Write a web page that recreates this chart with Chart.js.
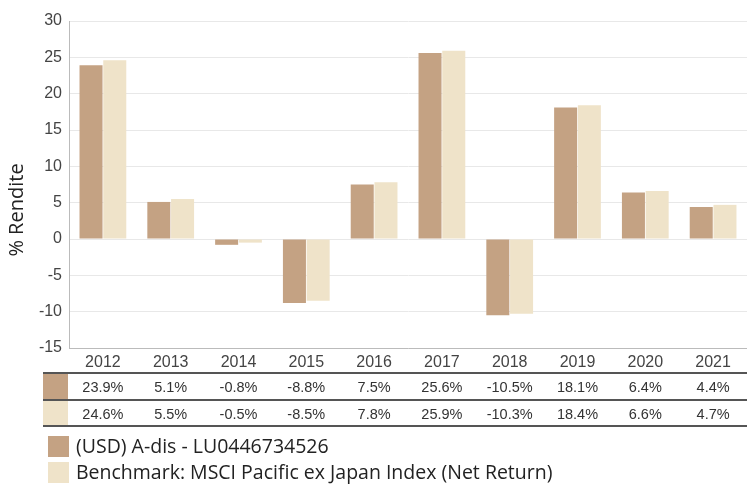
<!DOCTYPE html>
<html>
<head>
<meta charset="utf-8">
<script src="https://cdn.jsdelivr.net/npm/chart.js@4/dist/chart.umd.min.js"></script>
<style>
  html, body { margin: 0; padding: 0; background: #fff; }
  #wrap { width: 747px; height: 484px; position: relative; }
</style>
</head>
<body>
<div id="wrap"><canvas id="c" width="747" height="484"></canvas></div>
<script>
const years = ['2012','2013','2014','2015','2016','2017','2018','2019','2020','2021'];
const fundValues = [23.9, 5.1, -0.8, -8.8, 7.5, 25.6, -10.5, 18.1, 6.4, 4.4];
const benchValues = [24.6, 5.5, -0.5, -8.5, 7.8, 25.9, -10.3, 18.4, 6.6, 4.7];
const seriesNames = ['(USD) A-dis - LU0446734526', 'Benchmark: MSCI Pacific ex Japan Index (Net Return)'];
const yAxisTitle = '% Rendite';
const yMin = -15, yMax = 30, yStep = 5;

const fundColor = '#C4A283';
const benchColor = '#EFE3C9';

const tablePlugin = {
  id: 'tableLegend',
  afterDraw(chart) {
    const ctx = chart.ctx;
    const x = chart.scales.x;
    ctx.save();
    // y-axis title
    ctx.save();
    ctx.translate(17, 210);
    ctx.rotate(-Math.PI / 2);
    ctx.font = '20px "Open Sans"';
    ctx.fillStyle = '#222';
    ctx.textAlign = 'center';
    ctx.textBaseline = 'middle';
    ctx.fillText(yAxisTitle, 0, 0);
    ctx.restore();

    // table
    const left = 43, right = 747;
    const rowsTop = [374, 401];
    const rowH = 25;
    const rows = [fundValues, benchValues];
    const colors = [fundColor, benchColor];
    rows.forEach((vals, r) => {
      ctx.fillStyle = colors[r];
      ctx.fillRect(left, rowsTop[r], 25, rowH);
      ctx.font = '14.5px "Liberation Sans"';
      ctx.fillStyle = '#333';
      ctx.textAlign = 'center';
      ctx.textBaseline = 'middle';
      vals.forEach((v, i) => {
        ctx.fillText(v.toFixed(1) + '%', x.getPixelForValue(i), rowsTop[r] + rowH / 2 + 1);
      });
    });
    ctx.strokeStyle = '#555';
    ctx.lineWidth = 2;
    [373, 400, 426].forEach(yy => {
      ctx.beginPath();
      ctx.moveTo(left, yy);
      ctx.lineTo(right, yy);
      ctx.stroke();
    });

    // legend
    const legTop = [436, 462];
    ctx.font = '19.5px "Open Sans"';
    ctx.textAlign = 'left';
    ctx.textBaseline = 'middle';
    seriesNames.forEach((name, i) => {
      ctx.fillStyle = colors[i];
      ctx.fillRect(48, legTop[i], 21, 21);
      ctx.fillStyle = '#222';
      ctx.fillText(name, 76, legTop[i] + 11);
    });
    ctx.restore();
  }
};

new Chart(document.getElementById('c'), {
  type: 'bar',
  data: {
    labels: years,
    datasets: [
      { label: seriesNames[0], data: fundValues, backgroundColor: fundColor, barPercentage: 0.97, categoryPercentage: 0.7 },
      { label: seriesNames[1], data: benchValues, backgroundColor: benchColor, barPercentage: 0.97, categoryPercentage: 0.7 }
    ]
  },
  options: {
    responsive: false,
    animation: false,
    devicePixelRatio: 1,
    layout: { padding: { top: 21, right: 0, bottom: 112, left: 0 } },
    plugins: { legend: { display: false }, tooltip: { enabled: false } },
    scales: {
      x: {
        grid: { display: false, drawTicks: false },
        border: { color: '#bbb', width: 1 },
        ticks: { color: '#444', font: { family: 'Liberation Sans', size: 16 }, padding: 5, maxRotation: 0 },
        afterFit(s) { s.height = 24; }
      },
      y: {
        min: yMin, max: yMax,
        ticks: { stepSize: yStep, color: '#444', font: { family: 'Liberation Sans', size: 16 }, padding: 7 },
        grid: { color: '#e8e8e8', drawTicks: false, lineWidth: 1 },
        border: { color: '#bbb', width: 1 },
        afterFit(s) { s.width = 69; }
      }
    }
  },
  plugins: [tablePlugin]
});
</script>
</body>
</html>
